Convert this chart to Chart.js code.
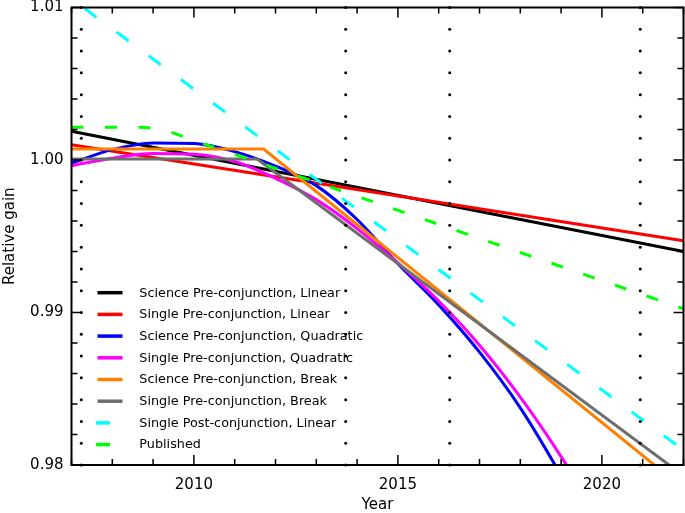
<!DOCTYPE html>
<html lang="en">
<head>
  <meta charset="UTF-8">
  <title>Relative gain</title>
  <script src="https://cdn.jsdelivr.net/npm/chart.js"></script>
  <style>
    body {
      margin: 0;
      background: #fff;
    }
    #wrap {
      width: 685px;
      height: 513px;
    }
  </style>
</head>
<body>
  <div id="wrap"><canvas id="gainChart" width="685" height="513"></canvas></div>

  <script>
    // values
    const sciLinearYears = [2007, 2022];
    const sciLinearGain = [1.00188, 0.99400];
    const singleLinearYears = [2007, 2022];
    const singleLinearGain = [1.00100, 0.99470];
    const quadYears = [2007, 2008, 2009, 2010, 2011, 2012, 2013, 2014, 2015, 2016, 2017, 2018, 2019, 2020];
    const sciQuadGain = [0.99980, 1.00068, 1.00112, 1.00108, 1.00055, 0.99960, 0.99832, 0.99610, 0.99320, 0.99050, 0.98740, 0.98375, 0.97930, 0.97430];
    const singleQuadGain = [0.99963, 1.00012, 1.00042, 1.00038, 0.99990, 0.99880, 0.99740, 0.99550, 0.99325, 0.99075, 0.98785, 0.98445, 0.98055, 0.97615];
    const sciBreakYears = [2007, 2011.71, 2022];
    const sciBreakGain = [1.00072, 1.00072, 0.97846];
    const singleBreakYears = [2007, 2011.55, 2022];
    const singleBreakGain = [1.00007, 1.00007, 0.97930];
    const postLinearYears = [2007, 2022];
    const postLinearGain = [1.01057, 0.98098];
    const publishedYears = [2007, 2008.6, 2009.2, 2010, 2022];
    const publishedGain = [1.00214, 1.00214, 1.00200, 1.00128, 0.99025];

    const conjunctionYears = [2007.24, 2013.72, 2016.27, 2020.94];
    const xLabelYears = [2010, 2015, 2020];
    const yLabelGains = [0.98, 0.99, 1.00, 1.01];

    function pts(xs, ys) {
      return xs.map((x, i) => ({ x: x, y: ys[i] }));
    }

    const series = [
      { label: 'Science Pre-conjunction, Linear', data: pts(sciLinearYears, sciLinearGain), color: '#000000' },
      { label: 'Single Pre-conjunction, Linear', data: pts(singleLinearYears, singleLinearGain), color: '#ff0000' },
      { label: 'Science Pre-conjunction, Quadratic', data: pts(quadYears, sciQuadGain), color: '#0000ff', curve: true },
      { label: 'Single Pre-conjunction, Quadratic', data: pts(quadYears, singleQuadGain), color: '#ff00ff', curve: true },
      { label: 'Science Pre-conjunction, Break', data: pts(sciBreakYears, sciBreakGain), color: '#ff8000' },
      { label: 'Single Pre-conjunction, Break', data: pts(singleBreakYears, singleBreakGain), color: '#6e6e6e' },
      { label: 'Single Post-conjunction, Linear', data: pts(postLinearYears, postLinearGain), color: '#00ffff', dash: [15, 25], dashOffset: 24 },
      { label: 'Published', data: pts(publishedYears, publishedGain), color: '#00ff00', dash: [12, 21.5], curve: true }
    ];

    const datasets = series.map((s, i) => ({
      label: s.label,
      data: s.data,
      borderColor: s.color,
      backgroundColor: s.color,
      borderWidth: 3,
      borderDash: s.dash || [],
      borderDashOffset: s.dashOffset || 0,
      pointRadius: 0,
      fill: false,
      tension: 0,
      cubicInterpolationMode: s.curve ? 'monotone' : 'default',
      clip: 0,
      order: series.length - i
    }));

    // dotted verticals, frame and inward ticks
    const framePlugin = {
      id: 'frame',
      afterDatasetsDraw(chart) {
        const { ctx, chartArea: a } = chart;
        const xs = chart.scales.x;
        ctx.save();
        ctx.fillStyle = '#000';
        const step = (a.bottom - a.top) / 21;
        conjunctionYears.forEach(yr => {
          const px = xs.getPixelForValue(yr);
          for (let k = 0; k <= 21; k++) {
            ctx.beginPath();
            ctx.arc(px, a.top + k * step, 1.5, 0, Math.PI * 2);
            ctx.fill();
          }
        });
        ctx.restore();
      },
      afterDraw(chart) {
        const { ctx, chartArea: a } = chart;
        const xs = chart.scales.x, ys = chart.scales.y;
        ctx.save();
        ctx.strokeStyle = '#000';
        ctx.lineWidth = 1.5;
        ctx.beginPath();
        xs.ticks.forEach(t => {
          const px = xs.getPixelForValue(t.value);
          const len = xLabelYears.includes(t.value) ? 10 : 6;
          ctx.moveTo(px, a.bottom); ctx.lineTo(px, a.bottom - len);
          ctx.moveTo(px, a.top); ctx.lineTo(px, a.top + len);
        });
        ys.ticks.forEach(t => {
          const py = ys.getPixelForValue(t.value);
          const major = yLabelGains.some(g => Math.abs(g - t.value) < 1e-6);
          const len = major ? 10 : 6;
          ctx.moveTo(a.left, py); ctx.lineTo(a.left + len, py);
          ctx.moveTo(a.right, py); ctx.lineTo(a.right - len, py);
        });
        ctx.stroke();
        ctx.lineWidth = 2;
        ctx.strokeRect(a.left, a.top, a.right - a.left, a.bottom - a.top);

        // legend inside the plot
        ctx.font = '12.8px "DejaVu Sans"';
        ctx.textBaseline = 'middle';
        ctx.fillStyle = '#000';
        chart.data.datasets.forEach((ds, i) => {
          const y = 292.7 + i * 21.7;
          ctx.beginPath();
          ctx.strokeStyle = ds.borderColor;
          ctx.lineWidth = 3.5;
          ctx.setLineDash(ds.borderDash.length ? [14, 30] : []);
          ctx.moveTo(ds.borderDash.length ? 96 : 97.5, y);
          ctx.lineTo(122.5, y);
          ctx.stroke();
          ctx.setLineDash([]);
          ctx.fillText(ds.label, 139.3, y + 0.5);
        });
        ctx.restore();
      }
    };

    const tickFont = { family: 'DejaVu Sans', size: 15 };

    new Chart(document.getElementById('gainChart'), {
      type: 'line',
      data: { datasets: datasets },
      options: {
        responsive: false,
        animation: false,
        devicePixelRatio: 1,
        layout: { padding: { top: 7.5, right: 1.5, left: 0, bottom: 0 } },
        plugins: {
          legend: { display: false },
          tooltip: { enabled: false }
        },
        scales: {
          x: {
            type: 'linear',
            min: 2007,
            max: 2022,
            grid: { display: false, drawTicks: false },
            border: { display: false },
            afterBuildTicks(scale) {
              const t = [];
              for (let yr = 2007; yr <= 2022; yr++) t.push({ value: yr });
              scale.ticks = t;
            },
            ticks: {
              autoSkip: false,
              maxRotation: 0,
              padding: 11,
              color: '#000',
              font: tickFont,
              callback: v => xLabelYears.includes(v) ? String(v) : ''
            },
            title: {
              display: true,
              text: 'Year',
              color: '#000',
              font: { family: 'DejaVu Sans', size: 15, lineHeight: 1.2 },
              padding: { top: 0, bottom: -1 }
            },
            afterFit(scale) {
              scale.height = 48;
              scale.paddingLeft = 0; scale.paddingRight = 0;
            }
          },
          y: {
            type: 'linear',
            min: 0.98,
            max: 1.01,
            grid: { display: false, drawTicks: false },
            border: { display: false },
            afterBuildTicks(scale) {
              const t = [];
              for (let k = 0; k <= 15; k++) t.push({ value: +(0.98 + k * 0.002).toFixed(3) });
              scale.ticks = t;
            },
            ticks: {
              autoSkip: false,
              padding: 8,
              color: '#000',
              font: tickFont,
              callback: v => yLabelGains.some(g => Math.abs(g - v) < 1e-6) ? v.toFixed(2) : ''
            },
            title: {
              display: true,
              text: 'Relative gain',
              color: '#000',
              font: { family: 'DejaVu Sans', size: 15, lineHeight: 1.2 },
              padding: { top: 1, bottom: 0 }
            },
            afterFit(scale) {
              scale.width = 71.5;
              scale.paddingTop = 0; scale.paddingBottom = 0;
            }
          }
        }
      },
      plugins: [framePlugin]
    });
  </script>
</body>
</html>
